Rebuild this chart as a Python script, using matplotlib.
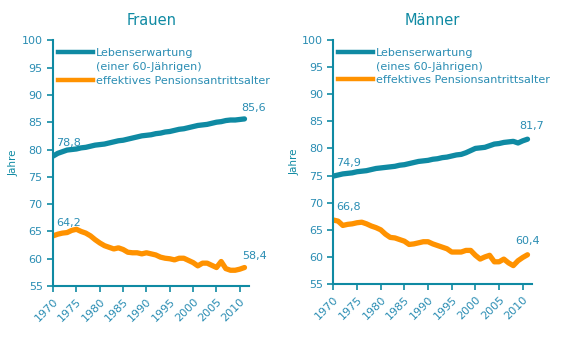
import matplotlib.pyplot as plt
from matplotlib.lines import Line2D

# data
years = list(range(1970, 2012))

frauen_lebenserwartung = [
    78.8, 79.3, 79.6, 79.9, 80.0, 80.1, 80.3, 80.4, 80.6, 80.8,
    80.9, 81.0, 81.2, 81.4, 81.6, 81.7, 81.9, 82.1, 82.3, 82.5,
    82.6, 82.7, 82.9, 83.0, 83.2, 83.3, 83.5, 83.7, 83.8, 84.0,
    84.2, 84.4, 84.5, 84.6, 84.8, 85.0, 85.1, 85.3, 85.4, 85.4,
    85.5, 85.6,
]
frauen_pension = [
    64.2, 64.5, 64.7, 64.8, 65.2, 65.4, 65.0, 64.7, 64.2, 63.5,
    62.9, 62.4, 62.1, 61.8, 62.0, 61.7, 61.2, 61.1, 61.1, 60.9,
    61.1, 60.9, 60.7, 60.3, 60.1, 60.0, 59.8, 60.1, 60.1, 59.7,
    59.3, 58.7, 59.2, 59.2, 58.8, 58.4, 59.5, 58.2, 57.9, 57.9,
    58.1, 58.4,
]
maenner_lebenserwartung = [
    74.9, 75.1, 75.3, 75.4, 75.5, 75.7, 75.8, 75.9, 76.1, 76.3,
    76.4, 76.5, 76.6, 76.7, 76.9, 77.0, 77.2, 77.4, 77.6, 77.7,
    77.8, 78.0, 78.1, 78.3, 78.4, 78.6, 78.8, 78.9, 79.2, 79.6,
    80.0, 80.1, 80.2, 80.5, 80.8, 80.9, 81.1, 81.2, 81.3, 81.0,
    81.4, 81.7,
]
maenner_pension = [
    66.8, 66.6, 65.8, 66.0, 66.1, 66.3, 66.4, 66.1, 65.7, 65.4,
    65.0, 64.2, 63.6, 63.5, 63.2, 62.9, 62.3, 62.4, 62.6, 62.8,
    62.8, 62.4, 62.1, 61.8, 61.5, 60.9, 60.9, 60.9, 61.2, 61.2,
    60.3, 59.6, 60.0, 60.3, 59.1, 59.1, 59.6, 58.9, 58.4, 59.3,
    59.9, 60.4,
]

x_ticks = list(range(1970, 2011, 5))
y_ticks = list(range(55, 101, 5))

TEAL = "#0f8aa3"
TEXT = "#2a8db3"
ORANGE = "#ff9200"


def fmt(v):
    return f"{v:.1f}".replace(".", ",")


def draw_panel(ax, title, le, pe, le_label, le_offset_end, pe_offset_end):
    ax.plot(years, le, color=TEAL, lw=3.8, solid_capstyle="round")
    ax.plot(years, pe, color=ORANGE, lw=3.8, solid_capstyle="round")

    ax.set_xlim(1970, 2012)
    ax.set_ylim(55, 100)
    ax.set_xticks(x_ticks)
    ax.set_yticks(y_ticks)
    ax.set_xticklabels([str(t) for t in x_ticks], rotation=45, ha="right",
                       rotation_mode="anchor")
    ax.tick_params(colors=TEAL, labelcolor=TEXT, labelsize=8, length=4,
                   width=1.2)
    for s in ["top", "right"]:
        ax.spines[s].set_visible(False)
    for s in ["left", "bottom"]:
        ax.spines[s].set_color(TEAL)
        ax.spines[s].set_linewidth(1.5)

    ax.set_title(title, color=TEAL, fontsize=10.5, pad=11)
    ax.set_ylabel("Jahre", color=TEAL, fontsize=7.5, labelpad=2)

    # value labels at start and end of each line
    ax.annotate(fmt(le[0]), (years[0], le[0]), xytext=(2, 7),
                textcoords="offset points", color=TEXT, fontsize=8)
    ax.annotate(fmt(pe[0]), (years[0], pe[0]), xytext=(2, 7),
                textcoords="offset points", color=TEXT, fontsize=8)
    ax.annotate(fmt(le[-1]), (years[-1], le[-1]), xytext=le_offset_end,
                textcoords="offset points", color=TEXT, fontsize=8)
    ax.annotate(fmt(pe[-1]), (years[-1], pe[-1]), xytext=pe_offset_end,
                textcoords="offset points", color=TEXT, fontsize=8)

    handles = [
        Line2D([], [], color=TEAL, lw=3.2),
        Line2D([], [], color="none", lw=3),
        Line2D([], [], color=ORANGE, lw=3.2),
    ]
    labels = ["Lebenserwartung", le_label, "effektives Pensionsantrittsalter"]
    leg = ax.legend(handles, labels, loc="upper left",
                    bbox_to_anchor=(0.0, 0.985), frameon=False, fontsize=8,
                    handlelength=3.2, handletextpad=0.25, labelspacing=0.33,
                    borderaxespad=0.2, borderpad=0.2)
    for t in leg.get_texts():
        t.set_color(TEXT)


fig = plt.figure(figsize=(5.65, 3.41), dpi=100)
ax1 = fig.add_axes([0.094, 0.161, 0.347, 0.721])
ax2 = fig.add_axes([0.590, 0.167, 0.352, 0.716])

draw_panel(ax1, "Frauen", frauen_lebenserwartung, frauen_pension,
           "(einer 60-Jährigen)", (-2, 6), (-2, 6))
draw_panel(ax2, "Männer", maenner_lebenserwartung, maenner_pension,
           "(eines 60-Jährigen)", (-6, 7), (-9, 8))

fig.savefig("out.png", dpi=100)
